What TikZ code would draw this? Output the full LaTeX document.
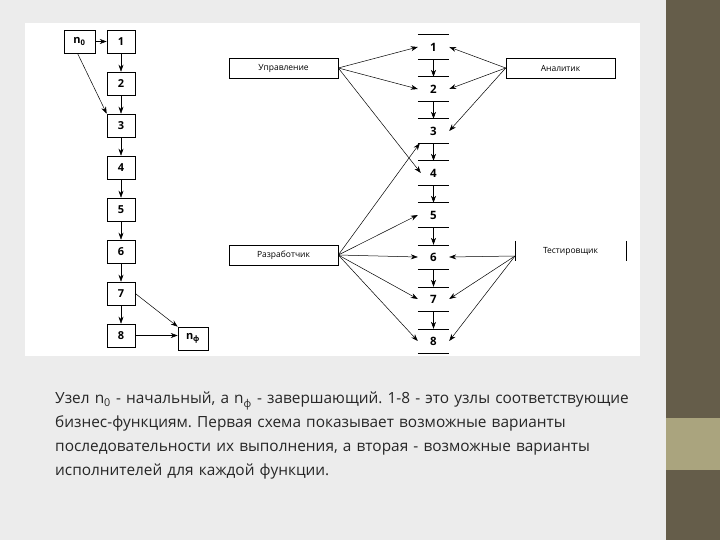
\documentclass[tikz,border=0pt]{standalone}
\usepackage{fontspec}
\setmainfont{Open Sans}
\usetikzlibrary{arrows.meta}
\definecolor{bg}{HTML}{ECECEC}
\definecolor{bar}{HTML}{655D4A}
\definecolor{band}{HTML}{AAA47E}
\frenchspacing
\begin{document}
\begin{tikzpicture}[x=1pt,y=-1pt,
  lbox/.style={draw,line width=0.6pt,minimum width=28pt,minimum height=23pt,inner sep=0pt,font=\bfseries\fontsize{11}{11}\selectfont},
  rbox/.style={draw,line width=0.6pt,minimum width=109pt,minimum height=20pt,inner sep=0pt,font=\fontsize{8.5}{8.5}\selectfont},
  num/.style={minimum width=31pt,minimum height=24pt,inner sep=0pt,font=\bfseries\fontsize{11.5}{11.5}\selectfont},
  arr/.style={-{Stealth[length=7pt,width=5pt]},line width=0.5pt}]
\fill[bg] (0,0) rectangle (720,540);
\useasboundingbox (0,0) rectangle (720,540);
\fill[white] (25,23) rectangle (640,356);
\fill[bar] (666,0) rectangle (720,540);
\fill[band] (666,418) rectangle (720,470);
% left chain
\node[lbox,minimum width=31pt] (n0) at (79.5,41.5) {n\textsubscript{0}};
\foreach \i/\y in {1/41.5,2/83.5,3/125.5,4/167.5,5/209.5,6/251.5,7/293.5,8/335.5}
  \node[lbox] (L\i) at (121,\y) {\i};
\node[lbox,minimum width=30pt] (nf) at (193,338.5) {n\textsubscript{ф}};
\draw[arr] (n0) -- (L1);
\foreach \a/\b in {1/2,2/3,3/4,4/5,5/6,6/7,7/8} \draw[arr] (L\a) -- (L\b);
\draw[arr] ([xshift=-2pt]n0.south) -- (L3.north west);
\draw[arr] (L7.east) -- (nf.north west);
\draw[arr] (L8.east) -- (nf.west |- L8.east);
% right column
\foreach \i/\y in {1/47,2/89,3/131,4/173,5/215,6/257,7/299,8/341}{
  \node[num] (R\i) at (433.5,\y) {\i};
  \draw[line width=0.6pt] (R\i.north west) -- (R\i.north east);
  \draw[line width=0.6pt] (R\i.south west) -- (R\i.south east);
}
\foreach \a/\b in {1/2,2/3,3/4,4/5,5/6,6/7,7/8} \draw[arr] (R\a.south) -- (R\b.north);
\node[rbox] (U) at (283.5,68) {Управление};
\node[rbox] (A) at (560.5,68) {Аналитик};
\node[rbox] (D) at (283.5,255) {Разработчик};
\node[font=\fontsize{8.5}{8.5}\selectfont,minimum width=111pt,minimum height=20pt,inner sep=0pt] (T) at (570.5,251) {Тестировщик};
\draw[line width=0.6pt] (T.north west) -- (T.south west);
\draw[line width=0.6pt] (T.north east) -- (T.south east);
\coordinate (Ts) at (515,256);
\draw[arr] (U.east) -- (R1.west);
\draw[arr] (U.east) -- (R2.west);
\draw[arr] (U.east) -- ([xshift=3pt]R4.west);
\draw[arr] (A.west) -- (R1.east);
\draw[arr] (A.west) -- (R2.east);
\draw[arr] (A.west) -- (R3.east);
\draw[arr] (D.east) -- ([xshift=2pt]R3.south west);
\draw[arr] (D.east) -- (R5.west);
\draw[arr] (D.east) -- (R6.west);
\draw[arr] (D.east) -- (R7.west);
\draw[arr] (D.east) -- (R8.west);
\draw[arr] (Ts) -- (R6.east);
\draw[arr] (Ts) -- (R7.east);
\draw[arr] (Ts) -- (R8.east);
% caption
\node[anchor=north west,align=left,text width=610pt,inner sep=0pt,font=\fontsize{15.4}{24}\selectfont,text=black!85] (cap) at (55,392)
{Узел n\textsubscript{0} - начальный, а n\textsubscript{ф} - завершающий. 1-8 - это узлы соответствующие\\
бизнес-функциям. Первая схема показывает возможные варианты\\
последовательности их выполнения, а вторая - возможные варианты\\
исполнителей для каждой функции.};
\end{tikzpicture}
\end{document}
